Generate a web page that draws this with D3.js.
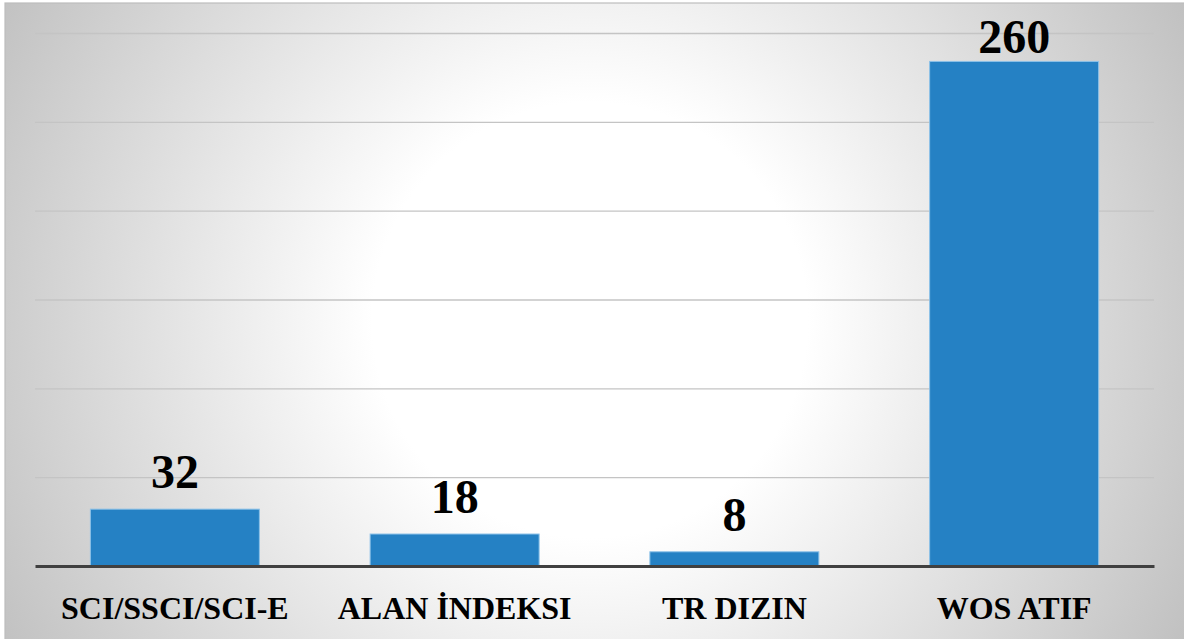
<!DOCTYPE html>
<html>
<head>
    <meta charset="UTF-8">
    <script src="https://d3js.org/d3.v7.min.js"></script>
    <style>
        body { margin: 0; }
        svg text {
            font-family: "Liberation Serif", "Times New Roman", Tinos, "Nimbus Roman", serif !important;
            font-weight: bold !important;
        }
    </style>
</head>
<body>
    <div id="chart"></div>

    <script>
        // data
        const categories = ["SCI/SSCI/SCI-E", "ALAN İNDEKSI", "TR DIZIN", "WOS ATIF"];
        // bar heights as drawn (the WOS bar is drawn taller than its label)
        const barValues = [32, 18, 8, 284];
        // the numbers printed above the bars
        const valueLabels = ["32", "18", "8", "260"];
        const gridTicks = [50, 100, 150, 200, 250, 300];

        const W = 1184, H = 639;
        const margin = { top: 33, right: 30, bottom: 73, left: 35 };

        const svg = d3.select("#chart")
            .append("svg")
            .attr("width", W)
            .attr("height", H)
            .attr("font-family", '"Liberation Serif", serif');

        // radial background, white in the middle
        const grad = svg.append("defs").append("radialGradient")
            .attr("id", "bg")
            .attr("gradientUnits", "userSpaceOnUse")
            .attr("cx", 590)
            .attr("cy", 320)
            .attr("r", 680);
        grad.append("stop").attr("offset", "0%").attr("stop-color", "#ffffff");
        grad.append("stop").attr("offset", "32%").attr("stop-color", "#ffffff");
        grad.append("stop").attr("offset", "100%").attr("stop-color", "#c0c0c0");

        svg.append("rect")
            .attr("x", 5)
            .attr("y", 3)
            .attr("width", W)
            .attr("height", H)
            .attr("fill", "url(#bg)")
            .attr("stroke", "#bdbdbd")
            .attr("stroke-width", 1.2);

        const x = d3.scaleBand()
            .domain(categories)
            .range([margin.left, W - margin.right])
            .paddingInner(0.396)
            .paddingOuter(0.198);

        const y = d3.scaleLinear()
            .domain([0, 300])
            .range([H - margin.bottom, margin.top]);

        // gridlines
        svg.append("g")
            .attr("transform", `translate(${margin.left},0)`)
            .call(d3.axisLeft(y)
                .tickValues(gridTicks)
                .tickSize(-(W - margin.right - margin.left))
                .tickFormat(""))
            .call(g => g.select(".domain").remove())
            .call(g => g.selectAll("text").remove())
            .attr("font-family", null)
            .selectAll("line")
            .attr("stroke", "#c4c4c4")
            .attr("stroke-width", 1.3);

        // bars
        svg.selectAll(".bar")
            .data(categories)
            .join("rect")
            .attr("class", "bar")
            .attr("x", d => x(d))
            .attr("y", (d, i) => y(barValues[i]))
            .attr("width", x.bandwidth())
            .attr("height", (d, i) => y(0) - y(barValues[i]))
            .attr("fill", "#2581c4")
            .attr("stroke", "#8cc1e8")
            .attr("stroke-width", 1);

        // category axis
        const xAxis = svg.append("g")
            .attr("transform", `translate(0, ${y(0)})`)
            .call(d3.axisBottom(x).tickSize(0).tickPadding(30))
            .attr("font-family", null)
            .attr("font-size", 32);

        xAxis.select(".domain")
            .attr("stroke", "#404040")
            .attr("stroke-width", 3);

        xAxis.selectAll("text")
            .attr("fill", "#000")
            .attr("dy", "0.71em");

        // value labels, kept inside the plot area
        svg.selectAll(".label")
            .data(categories)
            .join("text")
            .attr("class", "label")
            .attr("x", d => x(d) + x.bandwidth() / 2)
            .attr("y", (d, i) => Math.max(y(barValues[i]) - 21, margin.top + 20))
            .attr("text-anchor", "middle")
            .attr("font-size", 48)
            .attr("fill", "#000")
            .text((d, i) => valueLabels[i]);
    </script>
</body>
</html>
